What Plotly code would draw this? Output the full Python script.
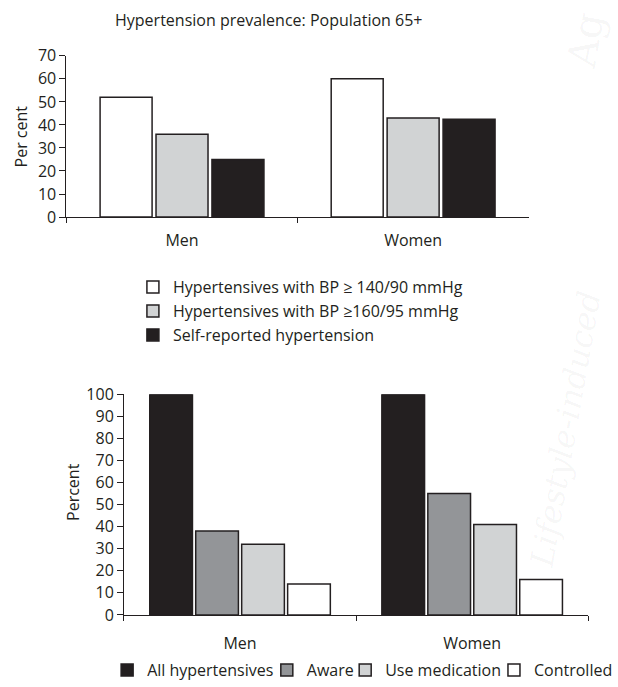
import plotly.graph_objects as go

W, H = 618, 687
INK = "#231f20"
FONT = "Open Sans"
FS = 16

# ---- Upper panel: hypertension prevalence, population 65+ ----
sexes = ["Men", "Women"]
prev_names = [
    "Hypertensives with BP ≥ 140/90 mmHg",
    "Hypertensives with BP ≥160/95 mmHg",
    "Self-reported hypertension",
]
bp_140_90 = [52, 60]
bp_160_95 = [36, 43]
self_reported = [25, 42.5]
prev_ticks = [0, 10, 20, 30, 40, 50, 60, 70]

# ---- Lower panel: awareness, treatment and control ----
care_names = ["All hypertensives", "Aware", "Use medication", "Controlled"]
all_hypertensives = [100, 100]
aware = [38, 55]
use_medication = [32, 41]
controlled = [14, 16]
care_ticks = [0, 10, 20, 30, 40, 50, 60, 70, 80, 90, 100]


def fx(px):
    return px / W


def fy(py):
    return 1 - py / H


fig = go.Figure()

# upper bars: three per group, placed by offset within the category slot
prev_vals = [bp_140_90, bp_160_95, self_reported]
prev_fill = ["#ffffff", "#d1d3d4", INK]
bw_top, pitch_top = 0.225, 0.242
start_top = -(2 * pitch_top + bw_top) / 2
for i, (name, vals, col) in enumerate(zip(prev_names, prev_vals, prev_fill)):
    fig.add_trace(go.Bar(
        x=sexes, y=vals, name=name,
        xaxis="x", yaxis="y",
        width=bw_top, offset=start_top + i * pitch_top,
        marker=dict(color=col, line=dict(color=INK, width=1.5)),
        legend="legend" if i == 0 else f"legend{i + 1}",
        showlegend=True,
    ))

# lower bars: four per group
care_vals = [all_hypertensives, aware, use_medication, controlled]
care_fill = [INK, "#939598", "#d1d3d4", "#ffffff"]
bw_bot, pitch_bot = 0.184, 0.198
start_bot = -(3 * pitch_bot + bw_bot) / 2
for i, (name, vals, col) in enumerate(zip(care_names, care_vals, care_fill)):
    fig.add_trace(go.Bar(
        x=sexes, y=vals, name=name,
        xaxis="x2", yaxis="y2",
        width=bw_bot, offset=start_bot + i * pitch_bot,
        marker=dict(color=col, line=dict(color=INK, width=1.5)),
        legend=f"legend{i + 4}",
        showlegend=True,
    ))

axis_common = dict(
    showline=True, linecolor=INK, linewidth=1,
    ticks="outside", tickcolor=INK, tickwidth=1,
    showgrid=False, zeroline=False, automargin=False, fixedrange=True,
    tickfont=dict(family=FONT, size=FS, color=INK),
)

legend_common = dict(
    xanchor="left", yanchor="middle",
    bgcolor="rgba(0,0,0,0)", borderwidth=0,
    font=dict(family=FONT, size=FS, color=INK),
    orientation="v", visible=True,
)

# legend placements (left edge of entry, row centre) in pixels
top_legend_pos = [(134, 288), (134, 312), (134, 336)]
bot_legend_pos = [(108, 672), (269, 672), (348, 672), (498, 672)]
legends = {}
for i, (lx, ly) in enumerate(top_legend_pos + bot_legend_pos):
    key = "legend" if i == 0 else f"legend{i + 1}"
    legends[key] = dict(legend_common, x=fx(lx), y=fy(ly))

watermark = "rgba(0,0,0,0.045)"

fig.update_layout(
    width=W, height=H,
    margin=dict(l=0, r=0, t=0, b=0),
    paper_bgcolor="white", plot_bgcolor="white",
    barmode="overlay", showlegend=True,
    font=dict(family=FONT, size=FS, color=INK),
    xaxis=dict(axis_common, domain=[fx(67), fx(533)], anchor="y",
               type="category", range=[-0.5, 1.5], tickson="boundaries",
               ticklen=5, ticklabelstandoff=9),
    yaxis=dict(axis_common, domain=[fy(217.7), fy(56)], anchor="x",
               range=[0, 70], tickvals=prev_ticks, ticklen=6),
    xaxis2=dict(axis_common, domain=[fx(125), fx(593)], anchor="y2",
                type="category", range=[-0.5, 1.5], tickson="boundaries",
                ticklen=5, ticklabelstandoff=14),
    yaxis2=dict(axis_common, domain=[fy(616.7), fy(395.3)], anchor="x2",
                range=[0, 100], tickvals=care_ticks, ticklen=6),
    **legends,
    annotations=[
        dict(text="Hypertension prevalence: Population 65+",
             x=fx(271), y=fy(20), xref="paper", yref="paper",
             xanchor="center", yanchor="middle",
             showarrow=False, font=dict(family=FONT, size=FS, color=INK)),
        dict(text="Per cent", textangle=-90,
             x=fx(21), y=fy(137), xref="paper", yref="paper",
             xanchor="center", yanchor="middle",
             showarrow=False, font=dict(family=FONT, size=FS, color=INK)),
        dict(text="Percent", textangle=-90,
             x=fx(73), y=fy(493), xref="paper", yref="paper",
             xanchor="center", yanchor="middle",
             showarrow=False, font=dict(family=FONT, size=FS, color=INK)),
        # faint page watermark along the right edge
        dict(text="Ag", textangle=-80,
             x=fx(590), y=fy(40), xref="paper", yref="paper",
             xanchor="center", yanchor="middle", showarrow=False,
             font=dict(family="DejaVu Serif", size=40, color=watermark)),
        dict(text="<i>Lifestyle-induced</i>", textangle=-80,
             x=fx(570), y=fy(430), xref="paper", yref="paper",
             xanchor="center", yanchor="middle", showarrow=False,
             font=dict(family="DejaVu Serif", size=32, color=watermark)),
    ],
)

fig.write_html("out.html")
